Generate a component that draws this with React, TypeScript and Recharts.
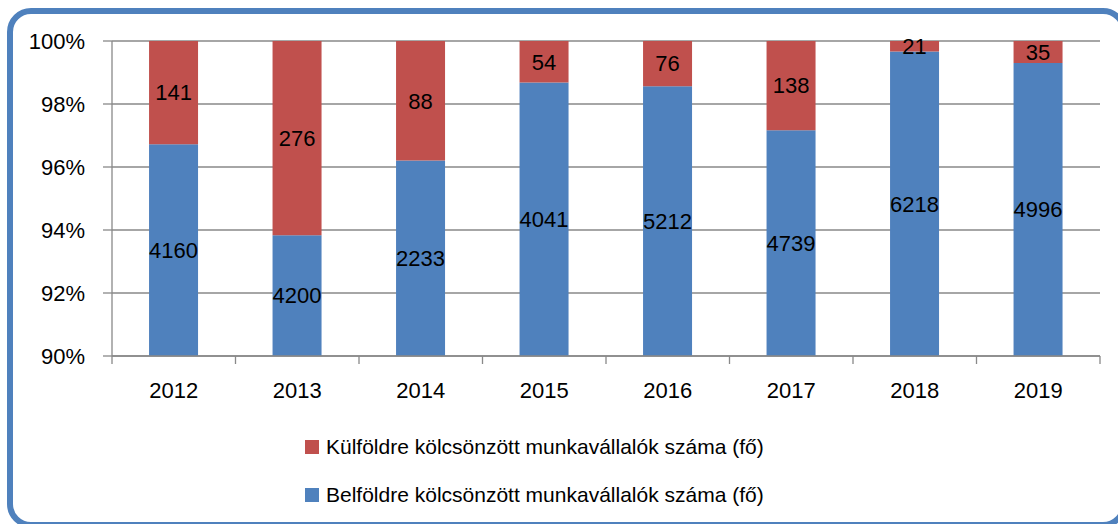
import * as React from 'react';
import { BarChart, Bar, XAxis, YAxis, CartesianGrid, Legend, LabelList } from 'recharts';

const years = ['2012', '2013', '2014', '2015', '2016', '2017', '2018', '2019'];
const domestic = [4160, 4200, 2233, 4041, 5212, 4739, 6218, 4996];
const abroad = [141, 276, 88, 54, 76, 138, 21, 35];
const yTicks = [90, 92, 94, 96, 98, 100];
const edgeTicks = [0, 1, 2, 3, 4, 5, 6, 7, 8];

const AXIS_MIN = 90;
const RED = '#c0504d';
const BLUE = '#4f81bd';
const GRID = '#898989';
const FONT = '"Liberation Sans", Arial, sans-serif';

// shares in percent; the floor bar lifts the stack to the axis minimum
const data = years.map((year, i) => {
    const total = domestic[i] + abroad[i];
    const kulPct = (abroad[i] / total) * 100;
    return {
        year,
        idx: i + 0.5,
        floor: AXIS_MIN,
        bel: 100 - kulPct - AXIS_MIN,
        kul: kulPct,
        belN: domestic[i],
        kulN: abroad[i],
    };
});

const legendItems = [
    { label: 'Külföldre kölcsönzött munkavállalók száma (fő)', color: RED },
    { label: 'Belföldre kölcsönzött munkavállalók száma (fő)', color: BLUE },
];

const renderLegend = () => (
    <div style={{ height: 100, fontFamily: FONT, fontSize: 21, color: '#000' }}>
        {legendItems.map(item => (
            <div key={item.label} style={{ display: 'flex', alignItems: 'center', height: 48 }}>
                <span style={{ width: 14, height: 14, background: item.color, marginRight: 7, display: 'inline-block' }} />
                <span>{item.label}</span>
            </div>
        ))}
    </div>
);

export default function App() {
    return (
        <div style={{ position: 'absolute', left: 0, top: 0, width: 1118, height: 524, overflow: 'hidden', background: '#fff' }}>
            <div style={{
                position: 'absolute', left: 7, top: 8, width: 1120, height: 520,
                border: `6px solid ${BLUE}`, borderRadius: 24, boxSizing: 'border-box',
            }} />
            <div style={{ position: 'absolute', left: 0, top: 0 }}>
                <BarChart width={1118} height={524} data={data} barCategoryGap="30%"
                    margin={{ top: 41, right: 18, left: 8, bottom: 19 }}>
                    <CartesianGrid vertical={false} stroke={GRID} strokeWidth={1.3} />
                    <XAxis dataKey="year" stroke={GRID} strokeWidth={1.3} tickLine={false} tickSize={0} tickMargin={26}
                        height={1} tick={{ fill: '#000', fontSize: 22, fontFamily: FONT }} />
                    {/* category boundary tick marks, as in the original */}
                    <XAxis xAxisId="edges" dataKey="idx" type="number" domain={[0, 8]} ticks={edgeTicks}
                        allowDataOverflow interval={0} height={48}
                        axisLine={false} tickSize={8} tick={() => <g />}
                        tickLine={{ stroke: GRID, strokeWidth: 1.3, transform: 'translate(0,-1)' }} />
                    <YAxis domain={[AXIS_MIN, 100]} ticks={yTicks} allowDataOverflow width={104}
                        stroke={GRID} strokeWidth={1.3} tickSize={9} tickMargin={18}
                        tickFormatter={(v: number) => `${v}%`}
                        tick={{ fill: '#000', fontSize: 22, fontFamily: FONT }} />
                    <Legend verticalAlign="bottom" content={renderLegend}
                        wrapperStyle={{ left: 305, top: 423, width: 'auto' }} />
                    <Bar dataKey="floor" stackId="a" fill="transparent" legendType="none" isAnimationActive={false} />
                    <Bar dataKey="bel" stackId="a" fill={BLUE} isAnimationActive={false}>
                        <LabelList dataKey="belN" position="center" fill="#000" fontSize={22} fontFamily={FONT} />
                    </Bar>
                    <Bar dataKey="kul" stackId="a" fill={RED} isAnimationActive={false}>
                        <LabelList dataKey="kulN" position="center" fill="#000" fontSize={22} fontFamily={FONT} />
                    </Bar>
                </BarChart>
            </div>
        </div>
    );
}
